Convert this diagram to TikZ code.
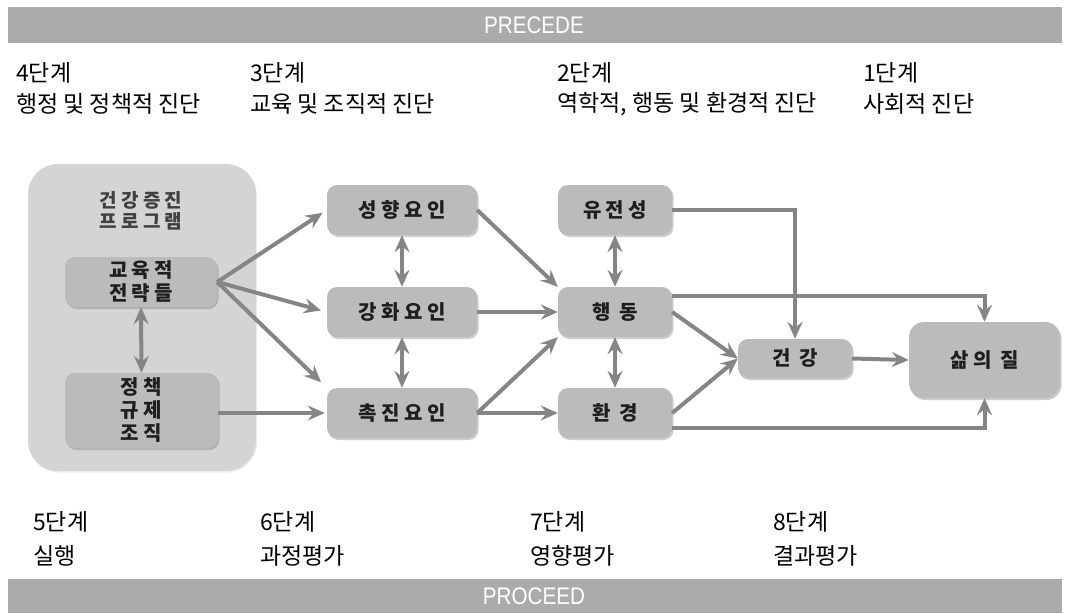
\documentclass[tikz,border=0pt]{standalone}
\usepackage{fontspec}
\newfontfamily\krsans{Noto Sans CJK KR}[LetterSpace=22]
\newfontfamily\krstage{Noto Sans CJK KR}
\newfontfamily\barfont{Liberation Sans}[FakeStretch=0.86]
\usetikzlibrary{arrows.meta,shadows,calc}

\definecolor{bargray}{HTML}{ABABAB}
\definecolor{panelgray}{HTML}{D4D4D4}
\definecolor{boxgray}{HTML}{BBBBBB}
\definecolor{linegray}{HTML}{858585}
\definecolor{textdark}{HTML}{1E1E1E}

\tikzset{
  bar/.style={fill=bargray, draw=none},
  bartext/.style={text=white, font=\barfont\fontsize{24}{26}\selectfont, inner sep=0},
  stage/.style={anchor=west, inner sep=0, font=\krstage\fontsize{23}{27}\selectfont},
  factor/.style={fill=boxgray, draw=none, rounded corners=10pt, align=center,
    text=textdark, inner sep=0,
    font=\krsans\bfseries\fontsize{20}{23}\selectfont,
    drop shadow={opacity=0.4, shadow xshift=1.5pt, shadow yshift=-2pt}},
  link/.style={draw=linegray, line width=4pt, -{Stealth[length=17pt, width=15pt, inset=6pt]}},
  twoway/.style={draw=linegray, line width=4pt,
    {Stealth[length=17pt, width=15pt, inset=6pt]}-{Stealth[length=17pt, width=15pt, inset=6pt]}},
}

\begin{document}
\begin{tikzpicture}[x=1pt, y=-1pt]
\useasboundingbox (0,0) rectangle (1065,613);

% PRECEDE / PROCEED bands
\fill[bar] (8,7) rectangle (1062,43);
\node[bartext] (precede) at (534,25) {PRECEDE};
\fill[bar] (8,579) rectangle (1062,613);
\node[bartext] (proceed) at (534,596) {PROCEED};

% stage labels, PRECEDE side
\node[stage] (s4) at (16,73) {4단계};
\node[stage] (s4t) at (16,104) {행정 및 정책적 진단};
\node[stage] (s3) at (250,73) {3단계};
\node[stage] (s3t) at (250,104) {교육 및 조직적 진단};
\node[stage] (s2) at (557,73) {2단계};
\node[stage] (s2t) at (557,104) {역학적, 행동 및 환경적 진단};
\node[stage] (s1) at (863,73) {1단계};
\node[stage] (s1t) at (863,104) {사회적 진단};

% stage labels, PROCEED side
\node[stage] (s5) at (33,522) {5단계};
\node[stage] (s5t) at (33,556) {실행};
\node[stage] (s6) at (260,522) {6단계};
\node[stage] (s6t) at (260,556) {과정평가};
\node[stage] (s7) at (530,522) {7단계};
\node[stage] (s7t) at (530,556) {영향평가};
\node[stage] (s8) at (773,522) {8단계};
\node[stage] (s8t) at (773,556) {결과평가};

% health promotion program panel
\node[fill=panelgray, rounded corners=30pt, minimum width=228pt, minimum height=307pt,
      inner sep=0, drop shadow={opacity=0.15, shadow xshift=1pt, shadow yshift=-1.5pt}]
      (prog) at (142,317.5) {};
\node[align=center, text=textdark!85, inner sep=0,
      font=\krsans\bfseries\fontsize{19}{21}\selectfont] (progtitle) at (141,211) {건강증진\\프로그램};
\node[factor, minimum width=152pt, minimum height=50pt] (edu) at (141,282) {교육적\\전략들};
\node[factor, minimum width=153pt, minimum height=75pt] (pol) at (141.5,410.5) {정책\\규제\\조직};

% predisposing / reinforcing / enabling factors
\node[factor, minimum width=150pt, minimum height=50pt] (pre) at (402,210) {성향요인};
\node[factor, minimum width=150pt, minimum height=50pt] (reinf) at (402,312) {강화요인};
\node[factor, minimum width=150pt, minimum height=50pt] (enab) at (402,413) {촉진요인};

% heredity / behaviour / environment
\node[factor, minimum width=114pt, minimum height=50pt] (gen) at (615,210) {유전성};
\node[factor, minimum width=114pt, minimum height=50pt] (beh) at (615,312) {행 동};
\node[factor, minimum width=114pt, minimum height=50pt] (env) at (615,413) {환 경};

% health and quality of life
\node[factor, minimum width=114pt, minimum height=39pt] (health) at (795,358.5) {건 강};
\node[factor, rounded corners=15pt, minimum width=151pt, minimum height=76pt] (qol) at (984.5,360) {삶의 질};

% program to factors
\draw[link, shorten >=5pt] (edu.east) -- (pre.west);
\draw[link, shorten >=6pt] (edu.east) -- (reinf.west);
\draw[link, shorten >=8pt] (edu.east) -- (enab.north west);
\draw[link, shorten >=2pt] (pol.east |- enab.west) -- (enab.west);
\draw[twoway] (edu.south) -- (pol.north);

% factors among themselves and to behaviour / environment
\draw[twoway] (pre.south) -- (reinf.north);
\draw[twoway] (reinf.south) -- (enab.north);
\draw[link] (pre.east) -- (beh.north west);
\draw[link] (reinf.east) -- (beh.west);
\draw[link] (enab.east) -- (beh.south west);
\draw[link] (enab.east) -- (env.west);

% heredity, behaviour, environment
\draw[twoway] (gen.south) -- (beh.north);
\draw[twoway] (beh.south) -- (env.north);
\draw[link] (beh.east) -- (health.west);
\draw[link] (env.east) -- (health.west);
\draw[link] (gen.east) -| (health.north);

% to quality of life
\draw[link] (health.east) -- (qol.west);
\coordinate (behout) at ($(beh.north east)+(0,9)$);
\coordinate (envout) at ($(env.south east)+(0,-10)$);
\draw[link] (behout) -| (qol.north);
\draw[link] (envout) -| (qol.south);
\end{tikzpicture}
\end{document}
